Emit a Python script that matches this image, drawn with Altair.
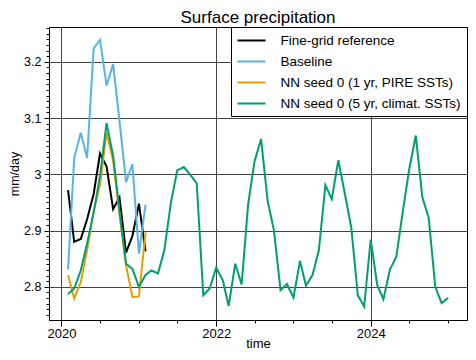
import altair as alt
import pandas as pd

series_names = [
    "Fine-grid reference",
    "Baseline",
    "NN seed 0 (1 yr, PIRE SSTs)",
    "NN seed 0 (5 yr, climat. SSTs)",
]
series_colors = ["#000000", "#56B4E9", "#E69F00", "#009E73"]

fine_grid = [2.972, 2.880, 2.885, 2.920, 2.965, 3.037, 3.014, 2.938, 2.959, 2.861, 2.890, 2.948, 2.863]
baseline = [2.831, 3.029, 3.074, 3.029, 3.224, 3.239, 3.158, 3.196, 3.095, 2.986, 3.018, 2.859, 2.946]
nn_1yr = [2.821, 2.779, 2.808, 2.865, 2.935, 2.982, 3.074, 3.024, 2.929, 2.838, 2.782, 2.783, 2.897]
nn_5yr = [
    2.787, 2.797, 2.829, 2.877, 2.932, 2.997, 3.091, 3.033, 2.935, 2.841,
    2.832, 2.800, 2.821, 2.829, 2.824, 2.865, 2.950, 3.007, 3.013, 2.999,
    2.984, 2.785, 2.797, 2.834, 2.812, 2.766, 2.841, 2.804, 2.947, 3.023,
    3.063, 2.953, 2.900, 2.794, 2.805, 2.781, 2.846, 2.802, 2.821, 2.865,
    2.981, 2.956, 3.025, 2.965, 2.906, 2.785, 2.765, 2.884, 2.803, 2.778,
    2.831, 2.853, 2.935, 3.009, 3.069, 2.959, 2.923, 2.800, 2.771, 2.780,
]

y_major = [2.8, 2.9, 3.0, 3.1, 3.2]
y_minor = [round(2.75 + 0.01 * k, 2) for k in range(52)]
x_major_years = [2020, 2022, 2024]
x_minor = [(2020 + k // 2, 1 + 6 * (k % 2)) for k in range(11)]

months = pd.date_range("2020-02-01", periods=60, freq="MS")
rows = []
for name, vals in zip(series_names, [fine_grid, baseline, nn_1yr, nn_5yr]):
    for t, v in zip(months[: len(vals)], vals):
        rows.append({"time": t, "value": v, "series": name})
df = pd.DataFrame(rows)

x_scale = alt.Scale(domain=[alt.DateTime(year=2019, month=11, date=3),
                            alt.DateTime(year=2025, month=3, date=31)])
y_scale = alt.Scale(domain=[2.741, 3.262], zero=False, nice=False)

lines = alt.Chart(df).mark_line(strokeWidth=2, clip=True).encode(
    x=alt.X("time:T", scale=x_scale,
            axis=alt.Axis(values=[alt.DateTime(year=y) for y in x_major_years],
                          format="%Y", title="time", tickSize=6, labelPadding=1.5,
                          labelFontSize=13, titleFontSize=13,
                          grid=True, titlePadding=-3, orient="bottom")),
    y=alt.Y("value:Q", scale=y_scale,
            axis=alt.Axis(values=y_major, format="~g", title="mm/day", tickSize=5,
                          labelPadding=3, grid=True, titlePadding=2, orient="left")),
    color=alt.Color("series:N", sort=series_names,
                    scale=alt.Scale(domain=series_names, range=series_colors),
                    legend=alt.Legend(title=None, orient="top-right", offset=0,
                                      fillColor="white", strokeColor="black",
                                      padding=5.5, symbolType="M-2,0H2",
                                      symbolSize=196, symbolStrokeWidth=2,
                                      symbolOffset=7,
                                      labelFontSize=13.5, labelLimit=400,
                                      labelOffset=21, rowPadding=6)),
    order=alt.Order("series:N"),
)

minor = alt.Chart(df).mark_point(opacity=0).encode(
    x=alt.X("time:T", scale=x_scale,
            axis=alt.Axis(values=[alt.DateTime(year=a, month=m) for a, m in x_minor],
                          labels=False, tickSize=3, grid=False, domain=False,
                          title=None, orient="bottom")),
    y=alt.Y("value:Q", scale=y_scale,
            axis=alt.Axis(values=y_minor, labels=False, tickSize=3, grid=False,
                          domain=False, title=None, orient="left")),
)

chart = alt.layer(minor, lines).resolve_axis(x="independent", y="independent").properties(
    width=418,
    height=293,
    padding={"left": 41, "top": 19, "right": 1, "bottom": 32},
    autosize=alt.AutoSizeParams(type="none"),
    title=alt.TitleParams("Surface precipitation", fontSize=17, fontWeight="normal",
                          anchor="middle", offset=0, color="black",
                          font="Liberation Sans"),
).configure(font="Liberation Sans").configure_axis(
    labelFont="Liberation Sans", titleFont="Liberation Sans",
    labelFontSize=12.5, titleFontSize=12.5, titleFontWeight="normal",
    labelColor="black", titleColor="black", tickColor="black",
    domainColor="black", gridColor="#444444", gridWidth=1,
).configure_legend(labelFont="Liberation Sans", labelColor="black").configure_view(
    stroke="black", strokeWidth=1
)

chart.save("out.html", embed_options={"renderer": "svg", "actions": False})
